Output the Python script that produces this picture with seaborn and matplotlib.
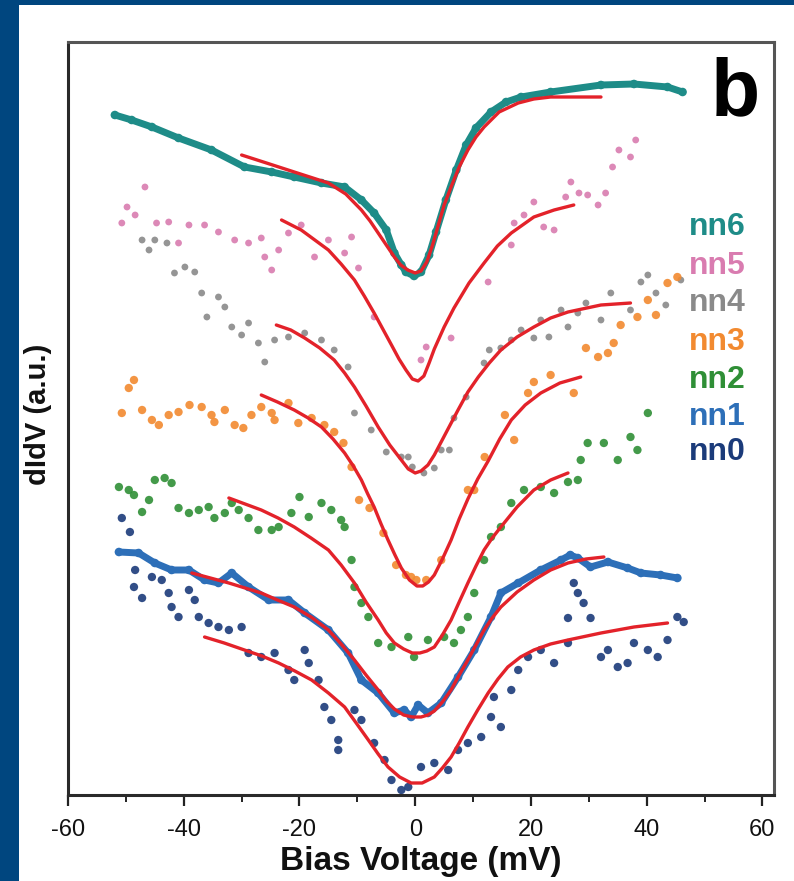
import matplotlib
matplotlib.use("Agg")
import matplotlib.pyplot as plt
import seaborn as sns
import pandas as pd

# ---------------- data (x: bias in mV, y: dI/dV in a.u., stacked) ----------------
nn6_x = [-51.9, -49.0, -45.5, -40.9, -35.2, -29.5, -24.8, -20.9, -16.2, -12.2, -9.3, -7.1, -5.0, -3.6,
         -2.4, -1.6, -0.2, 1.0, 2.4, 3.6, 5.3, 7.1, 8.8, 10.5, 13.1, 15.7, 18.3, 23.4, 32.1, 37.8, 43.6, 46.2]
nn6_y = [680, 675, 668, 657, 645, 628, 623, 618, 612, 608, 595, 582, 565, 542,
         530, 523, 519, 523, 540, 563, 595, 625, 650, 667, 683, 693, 698, 703, 710, 711, 708, 703]
fit6_x = [-30.0, -25.7, -20.9, -15.0, -12.0, -9.3, -7.8, -6.4, -5.0, -3.6, -2.5, -1.3, 0.0, 1.0, 2.0,
          3.0, 4.0, 5.0, 6.2, 7.6, 9.1, 10.5, 11.9, 14.5, 17.8, 20.5, 23.4, 32.1]
fit6_y = [640, 632, 623, 612, 601, 585, 574, 562, 550, 538, 530, 525, 522, 524, 533,
          550, 570, 590, 608, 628, 645, 658, 668, 683, 692, 696, 698, 698]

nn5_x = [-50.7, -49.8, -48.4, -46.7, -44.7, -42.6, -40.9, -39.1, -36.4, -34.0, -31.2, -28.8, -26.6, -26.0,
         -24.8, -23.6, -21.9, -19.7, -17.4, -15.0, -12.2, -11.0, -9.8, -7.1, 1.0, 1.9, 6.2, 12.6, 16.6, 17.1,
         18.8, 20.5, 22.2, 24.0, 26.0, 26.9, 28.3, 29.8, 31.6, 32.9, 34.1, 35.2, 37.2, 38.1]
nn5_y = [572, 588, 580, 608, 572, 573, 552, 570, 570, 563, 555, 552, 557, 538,
         525, 545, 562, 570, 538, 555, 542, 558, 527, 478, 435, 448, 457, 513, 550, 572,
         580, 593, 568, 565, 598, 613, 602, 600, 590, 602, 628, 645, 638, 655]
fit5_x = [-23.1, -19.7, -15.0, -12.8, -10.5, -8.8, -7.1, -5.6, -4.1, -2.8, -1.6, -0.5, 0.5, 1.5, 2.4,
          3.3, 5.0, 6.7, 9.3, 11.9, 14.2, 16.6, 20.5, 24.0, 27.4]
fit5_y = [575, 565, 545, 531, 515, 499, 482, 466, 450, 436, 425, 416, 414, 419, 432,
          446, 468, 487, 512, 532, 549, 562, 578, 585, 590]

nn4_x = [-47.2, -46.0, -45.0, -42.9, -41.6, -39.8, -38.1, -36.9, -34.0, -36.0, -32.9, -31.7, -30.0, -28.8,
         -27.1, -26.0, -24.3, -21.9, -19.1, -16.2, -14.0, -11.6, -10.5, -7.6, -5.0, -2.4, -1.2, -0.5, 1.5,
         3.3, 4.5, 5.9, 6.7, 8.8, 11.9, 12.8, 14.8, 16.6, 18.3, 20.5, 21.7, 23.1, 25.2, 26.4, 28.1, 29.5,
         32.1, 33.8, 37.2, 39.0, 40.2, 41.6, 43.3, 45.9]
nn4_y = [555, 545, 555, 552, 522, 528, 523, 502, 498, 478, 488, 468, 460, 472,
         452, 433, 455, 458, 462, 455, 445, 428, 382, 365, 343, 338, 338, 328, 322,
         327, 345, 345, 377, 398, 432, 445, 447, 455, 465, 457, 475, 458, 485, 468, 482, 492,
         475, 502, 485, 513, 520, 502, 490, 515]
fit4_x = [-24.0, -21.5, -19.1, -16.5, -14.0, -12.2, -10.5, -8.5, -6.4, -4.4, -2.4, -1.2, 0.0, 1.0, 2.2,
          3.3, 5.3, 7.4, 9.1, 10.9, 12.8, 14.8, 17.6, 20.5, 23.4, 26.4, 32.1, 37.2]
fit4_y = [470, 465, 457, 447, 435, 422, 408, 389, 368, 350, 335, 326, 322, 324, 330,
          340, 362, 385, 403, 418, 432, 445, 458, 468, 477, 483, 490, 492]

nn3_x = [-50.7, -49.5, -48.6, -47.2, -45.5, -44.3, -42.6, -40.9, -39.0, -36.9, -35.2, -34.7, -32.9, -31.2,
         -29.7, -28.3, -26.6, -24.8, -24.3, -21.9, -20.2, -17.9, -15.7, -14.0, -12.4, -11.0, -9.7, -7.9,
         -5.5, -3.3, -1.6, -0.7, 0.2, 1.9, 4.5, 9.1, 10.2, 12.0, 15.5, 17.1, 19.5, 20.5, 23.4, 27.4, 29.5,
         31.6, 33.3, 34.3, 35.5, 38.4, 40.2, 41.6, 43.6, 45.3]
nn3_y = [382, 407, 415, 385, 375, 370, 380, 383, 390, 388, 380, 373, 385, 370,
         367, 380, 388, 382, 375, 392, 372, 377, 370, 363, 352, 328, 295, 287,
         262, 230, 220, 218, 215, 215, 235, 305, 305, 338, 380, 355, 402, 413, 420, 402, 447,
         438, 442, 452, 470, 478, 495, 480, 512, 518]
fit3_x = [-26.6, -23.8, -20.9, -18.5, -16.2, -14.2, -12.2, -10.7, -9.3, -8.2, -7.1, -5.9, -4.7, -3.5,
          -2.4, -1.0, 0.3, 1.3, 2.3, 3.3, 4.7, 6.2, 7.6, 9.1, 10.8, 12.6, 14.6, 16.6, 19.0, 21.7, 25.0, 28.6]
fit3_y = [400, 393, 385, 377, 368, 356, 342, 329, 315, 301, 288, 271, 255, 240,
          227, 215, 209, 209, 213, 220, 236, 255, 276, 296, 316, 334, 356, 375, 390, 402, 412, 418]

nn2_x = [-51.2, -49.5, -48.6, -47.2, -46.0, -45.0, -43.3, -42.1, -40.9, -39.1, -37.4, -35.7, -34.7, -32.9,
         -31.7, -30.5, -28.8, -27.1, -24.8, -23.6, -21.4, -20.0, -18.4, -16.2, -14.5, -12.8, -12.2, -11.0,
         -10.5, -9.3, -8.1, -6.4, -4.1, -1.2, -0.2, 2.2, 5.0, 6.7, 7.9, 9.1, 10.2, 11.9, 13.1, 14.8, 16.6,
         18.8, 21.7, 24.0, 26.4, 28.1, 28.6, 29.8, 32.6, 35.0, 37.2, 38.4, 40.2]
nn2_y = [308, 305, 300, 283, 295, 315, 317, 312, 287, 282, 285, 288, 277, 282,
         292, 285, 277, 265, 265, 268, 282, 298, 278, 292, 285, 275, 268, 235,
         208, 192, 178, 152, 148, 158, 138, 155, 158, 152, 165, 178, 202, 235, 258, 268, 292,
         305, 308, 302, 313, 315, 335, 352, 352, 335, 358, 345, 382]
fit2_x = [-32.2, -29.4, -26.6, -23.7, -20.9, -18.0, -15.0, -12.8, -10.5, -8.5, -6.4, -5.0, -3.6, -2.0,
          -0.5, 0.8, 2.0, 3.3, 4.7, 6.2, 7.6, 9.1, 10.5, 11.9, 13.3, 14.8, 17.6, 20.5, 23.4, 26.4]
fit2_y = [297, 291, 285, 277, 268, 257, 245, 230, 212, 193, 175, 162, 152, 146,
          142, 142, 144, 148, 160, 175, 193, 212, 229, 245, 257, 268, 288, 305, 315, 322]

nn1_x = [-51.2, -47.8, -45.0, -42.1, -39.1, -36.4, -34.0, -31.7, -28.8, -25.3, -21.9, -19.1, -15.0, -11.6,
         -9.3, -6.4, -3.6, -1.9, -0.7, 0.5, 2.2, 4.5, 7.4, 10.2, 13.1, 14.8, 17.8, 21.7, 25.2, 26.8, 28.1,
         30.3, 33.3, 36.7, 39.0, 42.4, 45.3]
nn1_y = [243, 242, 232, 225, 225, 215, 212, 222, 208, 195, 195, 182, 165, 142,
         115, 102, 82, 85, 78, 90, 82, 92, 118, 145, 178, 202, 212, 225, 235, 240, 237,
         228, 233, 227, 222, 220, 217]
fit1_x = [-38.6, -35.4, -32.2, -29.4, -26.6, -23.8, -20.9, -18.0, -15.0, -12.8, -10.5, -8.5, -6.4, -5.0,
          -3.6, -2.0, -0.5, 1.0, 2.2, 3.3, 4.7, 6.2, 7.6, 9.1, 10.5, 11.9, 13.3, 14.8, 17.6, 20.5, 23.4,
          26.4, 29.5, 32.6]
fit1_y = [222, 217, 212, 207, 202, 195, 188, 178, 165, 151, 135, 120, 105, 94,
          86, 80, 78, 78, 80, 84, 93, 105, 120, 135, 150, 165, 177, 188, 203, 215, 225,
          232, 236, 238]

nn0_x = [-50.7, -49.3, -48.4, -48.6, -47.2, -45.5, -43.8, -42.6, -42.1, -40.9, -39.1, -38.1, -37.4, -35.7,
         -34.0, -32.2, -30.0, -28.8, -26.6, -24.3, -21.9, -20.9, -19.1, -18.4, -16.7, -15.7, -14.5, -13.3,
         -13.3, -10.5, -9.3, -7.1, -5.3, -4.1, -2.4, -1.2, 1.0, 3.3, 5.7, 7.4, 9.1, 11.4, 13.1, 14.8, 13.6,
         16.6, 17.8, 19.5, 21.7, 24.0, 26.4, 27.4, 28.1, 29.1, 26.4, 30.3, 32.1, 33.3, 35.0, 36.7, 37.8,
         40.2, 41.9, 43.6, 45.3, 46.4]
nn0_y = [277, 263, 225, 208, 197, 218, 215, 202, 188, 178, 205, 195, 178, 172,
         168, 165, 168, 142, 138, 142, 125, 115, 145, 132, 115, 88, 75, 55,
         45, 85, 75, 52, 35, 15, 5, 8, 28, 32, 25, 45, 52, 58, 78, 68, 98,
         105, 125, 138, 145, 132, 152, 212, 202, 192, 177, 177, 138, 145, 128, 132, 152,
         145, 138, 155, 178, 173]
fit0_x = [-36.4, -33.0, -29.5, -26.5, -23.6, -20.8, -17.9, -15.0, -12.2, -10.2, -8.1, -6.4, -4.7, -2.7,
          -0.7, 1.2, 3.3, 4.7, 6.2, 7.6, 9.1, 10.8, 12.6, 14.3, 16.0, 18.2, 20.5, 23.4, 26.4, 32.1, 37.8, 43.6]
fit0_y = [158, 152, 145, 139, 132, 124, 115, 102, 88, 72, 55, 41, 28, 18,
          12, 12, 18, 27, 38, 52, 68, 85, 102, 116, 128, 138, 145, 151, 155, 162, 168, 172]

labels = ["nn6", "nn5", "nn4", "nn3", "nn2", "nn1", "nn0"]
colors = ["#1e8c88", "#d97cb0", "#8a8a8a", "#f28a30", "#2f8f36", "#2d6fb8", "#1b3b7a"]
fit_color = "#e3222a"

x_ticks = [-60, -40, -20, 0, 20, 40, 60]
x_label = "Bias Voltage (mV)"
y_label = "dIdV (a.u.)"
panel = "b"

# ---------------- figure ----------------
sns.set_theme(style="white")
plt.rcParams["font.family"] = ["Liberation Sans", "DejaVu Sans"]

W, H = 794, 881
fig = plt.figure(figsize=(W / 100, H / 100), dpi=100, facecolor="#00467f")
bg = fig.add_axes([19 / W, 0, 1 - 19 / W, 1 - 5 / H], zorder=-5)
bg.set_facecolor("white")
bg.set_xticks([])
bg.set_yticks([])
for sp in bg.spines.values():
    sp.set_visible(False)

ax = fig.add_axes([68 / W, 1 - 795 / H, (774 - 68) / W, (795 - 42) / H], zorder=1)
ax.set_facecolor("white")

series = [
    (nn6_x, nn6_y, fit6_x, fit6_y, True),
    (nn5_x, nn5_y, fit5_x, fit5_y, False),
    (nn4_x, nn4_y, fit4_x, fit4_y, False),
    (nn3_x, nn3_y, fit3_x, fit3_y, False),
    (nn2_x, nn2_y, fit2_x, fit2_y, False),
    (nn1_x, nn1_y, fit1_x, fit1_y, True),
    (nn0_x, nn0_y, fit0_x, fit0_y, False),
]

for (sx, sy, fx, fy, dense), lab, col in zip(series, labels, colors):
    df = pd.DataFrame({"x": sx, "y": sy})
    if dense:
        sns.lineplot(data=df, x="x", y="y", ax=ax, color=col, lw=5.0, sort=False, zorder=2)
        sns.scatterplot(data=df, x="x", y="y", ax=ax, color=col, s=38, edgecolor="none", zorder=2)
    else:
        small = lab in ("nn5", "nn4")
        sns.scatterplot(data=df, x="x", y="y", ax=ax, color=col, s=24 if small else 36,
                        edgecolor="none", alpha=0.9, zorder=2)

for (sx, sy, fx, fy, dense) in series:
    dff = pd.DataFrame({"x": fx, "y": fy})
    sns.lineplot(data=dff, x="x", y="y", ax=ax, color=fit_color, lw=2.4, sort=False, zorder=3)

ax.set_xlim(-60, 62)
ax.set_ylim(0, 753)
ax.set_xticks(x_ticks)
ax.set_xticklabels([str(t) for t in x_ticks])
ax.set_xticks([-50, -30, -10, 10, 30, 50], minor=True)
ax.set_yticks([])
ax.tick_params(axis="x", which="major", direction="out", length=8, width=1.6, color="#222222",
               labelsize=17, pad=9, labelcolor="#111111", bottom=True)
ax.tick_params(axis="x", which="minor", direction="out", length=5, width=1.4, color="#222222", bottom=True)
for name, sp in ax.spines.items():
    sp.set_visible(True)
    sp.set_color("#2a2a2a")
    sp.set_linewidth(2.2)
ax.spines["top"].set_color("#555555")
ax.spines["right"].set_color("#555555")

ax.set_xlabel(x_label, fontsize=24, fontweight="bold", color="#111111", labelpad=4)
ax.set_ylabel(y_label, fontsize=21, fontweight="bold", color="#111111")
ax.yaxis.set_label_coords(-0.022, 0.505)

# panel letter
fig.text(711 / W, 1 - 115 / H, panel, fontsize=58, fontweight="bold", color="black",
         ha="left", va="baseline")

# coloured series labels
label_y = [227, 266, 303, 342, 380, 417, 452]
for lab, col, py in zip(labels, colors, label_y):
    fig.text(689 / W, 1 - py / H, lab, fontsize=23, fontweight="bold", color=col,
             ha="left", va="center")

fig.savefig("out.png", dpi=100, facecolor=fig.get_facecolor())
